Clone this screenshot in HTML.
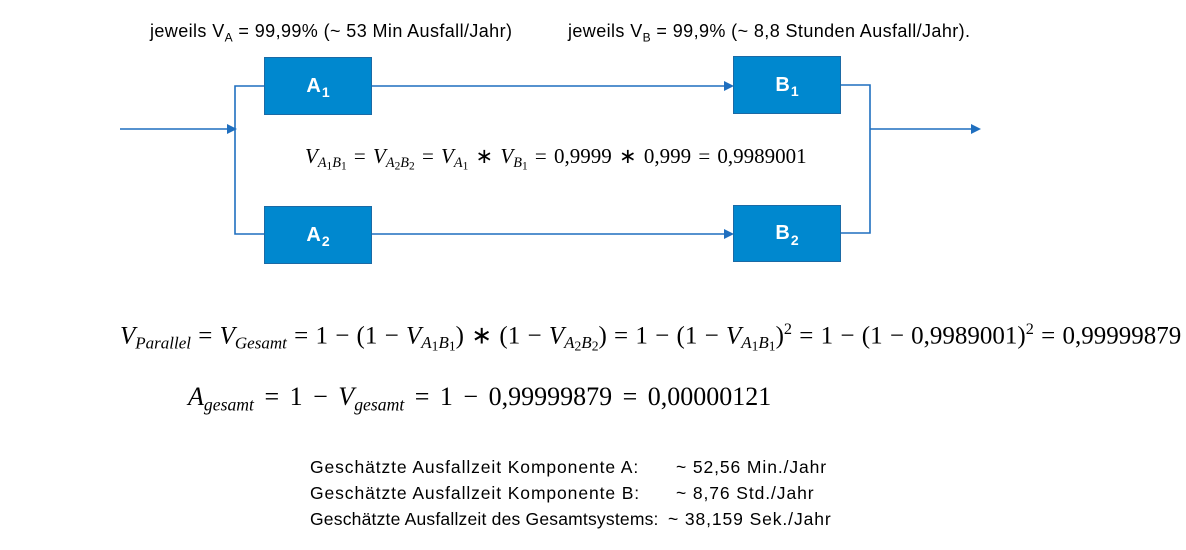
<!DOCTYPE html>
<html><head><meta charset="utf-8"><style>
body{margin:0;width:1186px;height:550px;background:#fff;position:relative;overflow:hidden;font-family:"Liberation Sans",sans-serif;color:#000}
.a{position:absolute;white-space:nowrap}
.box{position:absolute;background:#0088cf;border:1px solid #1b6aa5;box-sizing:border-box;color:#fff;font-weight:bold;font-size:20px;display:flex;align-items:center;justify-content:center}
.box span{font-size:14px;position:relative;top:6px;margin-left:1px}
.m{font-family:"Liberation Serif",serif}
.m i{font-style:italic}
.m sub{font-size:0.68em;vertical-align:-0.3em}
.m sub sub{font-size:0.8em;vertical-align:-0.2em}
.t{font-size:17.5px;letter-spacing:0.9px}
.h{font-size:18px;letter-spacing:0.4px}
</style></head><body>
<svg class="a" style="left:0;top:0" width="1186" height="550">
<g stroke="#1f6fbf" stroke-width="1.6" fill="none">
<line x1="120" y1="129" x2="228" y2="129"/>
<polyline points="264,86 235,86 235,234 264,234"/>
<line x1="371" y1="86" x2="726" y2="86"/>
<line x1="371" y1="234" x2="726" y2="234"/>
<polyline points="840,85 870,85 870,233 841,233"/>
<line x1="870" y1="129" x2="972" y2="129"/>
</g>
<g fill="#1f6fbf">
<polygon points="237,129 227,124 227,134"/>
<polygon points="734,86 724,81 724,91"/>
<polygon points="734,234 724,229 724,239"/>
<polygon points="981,129 971,124 971,134"/>
</g>
</svg>
<div class="box" style="left:264px;top:57px;width:108px;height:58px">A<span>1</span></div>
<div class="box" style="left:264px;top:206px;width:108px;height:58px">A<span>2</span></div>
<div class="box" style="left:733px;top:56px;width:108px;height:58px">B<span>1</span></div>
<div class="box" style="left:733px;top:205px;width:108px;height:57px">B<span>2</span></div>
<div class="a h" style="left:150px;top:21px">jeweils V<sub style="font-size:12px">A</sub> = 99,99% (~ 53 Min Ausfall/Jahr)</div>
<div class="a h" style="left:568px;top:21px">jeweils V<sub style="font-size:12px">B</sub> = 99,9% (~ 8,8 Stunden Ausfall/Jahr).</div>
<div class="a m" style="left:305px;top:144px;font-size:21px;word-spacing:2px"><i>V</i><sub><i>A</i><sub>1</sub><i>B</i><sub>1</sub></sub> = <i>V</i><sub><i>A</i><sub>2</sub><i>B</i><sub>2</sub></sub> = <i>V</i><sub><i>A</i><sub>1</sub></sub> ∗ <i>V</i><sub><i>B</i><sub>1</sub></sub> = 0,9999 ∗ 0,999 = 0,9989001</div>
<div class="a m" style="left:120px;top:320px;font-size:25px;word-spacing:1px"><i>V</i><sub><i>Parallel</i></sub> = <i>V</i><sub><i>Gesamt</i></sub> = 1 − (1 − <i>V</i><sub><i>A</i><sub>1</sub><i>B</i><sub>1</sub></sub>) ∗ (1 − <i>V</i><sub><i>A</i><sub>2</sub><i>B</i><sub>2</sub></sub>) = 1 − (1 − <i>V</i><sub><i>A</i><sub>1</sub><i>B</i><sub>1</sub></sub>)<sup style="font-size:0.65em">2</sup> = 1 − (1 − 0,9989001)<sup style="font-size:0.65em">2</sup> = 0,99999879</div>
<div class="a m" style="left:188px;top:382px;font-size:26px;word-spacing:4px"><i>A</i><sub><i>gesamt</i></sub> = 1 − <i>V</i><sub><i>gesamt</i></sub> = 1 − 0,99999879 = 0,00000121</div>
<div class="a t" style="left:310px;top:457px">Geschätzte Ausfallzeit Komponente A:</div>
<div class="a t" style="left:676px;top:457px">~ 52,56 Min./Jahr</div>
<div class="a t" style="left:310px;top:483px">Geschätzte Ausfallzeit Komponente B:</div>
<div class="a t" style="left:676px;top:483px">~ 8,76 Std./Jahr</div>
<div class="a t" style="left:310px;top:509px;letter-spacing:0.2px">Geschätzte Ausfallzeit des Gesamtsystems:</div>
<div class="a t" style="left:668px;top:509px">~ 38,159 Sek./Jahr</div>
</body></html>
